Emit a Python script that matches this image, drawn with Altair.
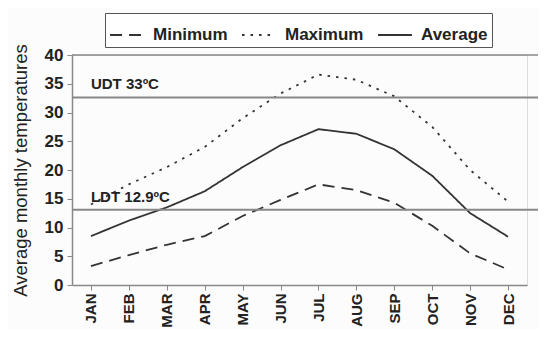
import altair as alt
import pandas as pd

months = ["JAN", "FEB", "MAR", "APR", "MAY", "JUN", "JUL", "AUG", "SEP", "OCT", "NOV", "DEC"]
minimum = [3.3, 5.2, 7.0, 8.5, 12.0, 14.8, 17.5, 16.5, 14.3, 10.3, 5.5, 2.7]
maximum = [14.0, 17.5, 20.5, 24.0, 29.0, 33.3, 36.6, 35.7, 32.8, 27.5, 20.0, 14.5]
average = [8.5, 11.2, 13.5, 16.3, 20.5, 24.3, 27.1, 26.3, 23.6, 19.0, 12.5, 8.4]
series_names = ["Minimum", "Maximum", "Average"]
thresholds = [32.6, 13.1]
threshold_labels = ["UDT 33ºC", "LDT 12.9ºC"]
threshold_label_y = [35, 15.3]
y_ticks = [0, 5, 10, 15, 20, 25, 30, 35, 40]

rows = []
for name, vals in zip(series_names, [minimum, maximum, average]):
    for m, v in zip(months, vals):
        rows.append({"month": m, "value": v, "series": name})
df = pd.DataFrame(rows)

W, H = 455, 230
RIGHT = 11
FONT = "Liberation Sans"

x_scale = alt.Scale(domain=months, paddingInner=0, paddingOuter=0)
x_axis = alt.Axis(title=None, labelAngle=-90, labelFontWeight="bold", labelFontSize=15,
                  labelColor="#222", tickColor="#888", domainColor="#888", domainWidth=1.5,
                  bandPosition=0, tickSize=5, labelPadding=3, labelBaseline="middle",
                  labelAlign="right")
y_scale = alt.Scale(domain=[0, 40])
y_axis = alt.Axis(title="Average monthly temperatures", values=y_ticks, tickCount=9,
                  labelOverlap=False, labelFontWeight="bold", labelFontSize=17, labelColor="#222",
                  titleFontWeight="normal", titleFontSize=18.5, titleColor="#222",
                  tickColor="#888", domainColor="#888", domainWidth=1.5, grid=False,
                  tickSize=5, labelPadding=4, titlePadding=14)

lines = alt.Chart(df).mark_line(color="#333", strokeWidth=1.8).encode(
    x=alt.X("month:N", sort=months, scale=x_scale, axis=x_axis),
    y=alt.Y("value:Q", scale=y_scale, axis=y_axis),
    strokeDash=alt.StrokeDash("series:N", sort=series_names,
                              scale=alt.Scale(domain=series_names, range=[[12, 7], [2.5, 6], [1, 0]]),
                              legend=alt.Legend(title=None, orient="none", legendX=33, legendY=-42,
                                                direction="horizontal", strokeColor="#555",
                                                padding=4, labelFontSize=17, labelFontWeight="bold",
                                                labelColor="#222", symbolType="stroke",
                                                symbolStrokeColor="#333", symbolStrokeWidth=2,
                                                symbolSize=1150, columnPadding=10, labelOffset=8,
                                                fillColor="white")),
    detail="series:N",
)

th_df = pd.DataFrame({"value": thresholds, "label": threshold_labels, "ly": threshold_label_y,
                      "month": ["JAN", "JAN"]})
rules = alt.Chart(th_df).mark_rule(color="#888", strokeWidth=2, clip=False).encode(
    y=alt.Y("value:Q", scale=y_scale, axis=y_axis), x=alt.value(0), x2=alt.value(W + RIGHT))
top_rule = alt.Chart(pd.DataFrame({"value": [40]})).mark_rule(color="#888", strokeWidth=1.5, clip=False).encode(
    y=alt.Y("value:Q", scale=y_scale, axis=y_axis), x=alt.value(0), x2=alt.value(W + RIGHT))
texts = alt.Chart(th_df).mark_text(align="left", baseline="middle", fontSize=15, fontWeight="bold",
                                   color="#222", font=FONT).encode(
    x=alt.X("month:N", sort=months, scale=x_scale, axis=x_axis),
    y=alt.Y("ly:Q", scale=y_scale, axis=y_axis), text="label:N")

chart = alt.layer(lines, rules, top_rule, texts).properties(
    width=W, height=H, background="#fcfcfc",
    autosize=alt.AutoSizeParams(type="none"),
    padding={"left": 64, "top": 47, "right": RIGHT, "bottom": 44},
).configure_view(stroke=None).configure(font=FONT)

chart.save("out.html", embed_options={"renderer": "svg", "actions": False})
